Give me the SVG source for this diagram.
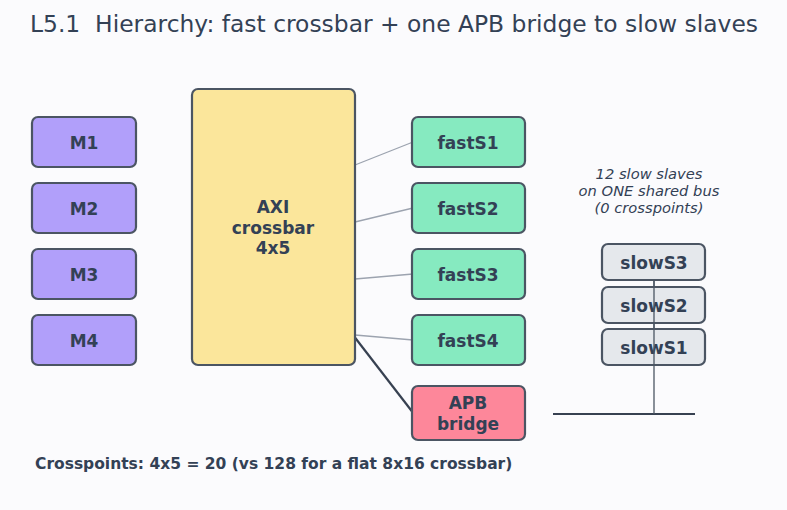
<svg xmlns="http://www.w3.org/2000/svg" width="787" height="510" viewBox="0 0 787 510">
<style>
text{font-family:"DejaVu Sans","Noto Sans",sans-serif;fill:#334155}
.n rect{stroke:#4b5563;stroke-width:2.2}
.lbl{font-weight:bold;font-size:17px;text-anchor:middle}
.m rect{fill:#b19ffa}
.f rect{fill:#86eac0}
.s rect{fill:#e5e8ec}
.thin{stroke:#9ca3af;stroke-width:1.3;fill:none}
.thick{stroke:#374151;stroke-width:2.2;fill:none}
</style>
<rect width="787" height="510" fill="#fbfbfd"/>
<text x="30" y="32" font-size="23.4" xml:space="preserve">L5.1  Hierarchy: fast crossbar + one APB bridge to slow slaves</text>
<g id="connectors">
<line class="thin" x1="355" y1="165" x2="413" y2="142"/>
<line class="thin" x1="355" y1="222" x2="413" y2="208"/>
<line class="thin" x1="355" y1="279" x2="413" y2="274"/>
<line class="thin" x1="355" y1="335" x2="413" y2="340"/>
<line class="thick" x1="353" y1="335" x2="414" y2="414"/>
<line class="thick" x1="553" y1="414" x2="695" y2="414" stroke-width="2.6"/>
<line x1="654" y1="280" x2="654" y2="414" stroke="#4b5563" stroke-width="1.3"/>
</g>
<g id="M1" class="n m"><rect x="32" y="117" width="104" height="50" rx="6"/><text class="lbl" x="84" y="148.5">M1</text></g>
<g id="M2" class="n m"><rect x="32" y="183" width="104" height="50" rx="6"/><text class="lbl" x="84" y="214.5">M2</text></g>
<g id="M3" class="n m"><rect x="32" y="249" width="104" height="50" rx="6"/><text class="lbl" x="84" y="280.5">M3</text></g>
<g id="M4" class="n m"><rect x="32" y="315" width="104" height="50" rx="6"/><text class="lbl" x="84" y="346.5">M4</text></g>
<g id="AXI" class="n"><rect x="192" y="89" width="163" height="276" rx="6" fill="#fbe69b"/>
<text class="lbl" x="273" y="212.5">AXI</text><text class="lbl" x="273" y="233.5">crossbar</text><text class="lbl" x="273" y="253.5">4x5</text></g>
<g id="fastS1" class="n f"><rect x="412" y="117" width="113" height="50" rx="6"/><text class="lbl" x="468" y="148.5">fastS1</text></g>
<g id="fastS2" class="n f"><rect x="412" y="183" width="113" height="50" rx="6"/><text class="lbl" x="468" y="214.5">fastS2</text></g>
<g id="fastS3" class="n f"><rect x="412" y="249" width="113" height="50" rx="6"/><text class="lbl" x="468" y="280.5">fastS3</text></g>
<g id="fastS4" class="n f"><rect x="412" y="315" width="113" height="50" rx="6"/><text class="lbl" x="468" y="346.5">fastS4</text></g>
<g id="APB" class="n"><rect x="412" y="386" width="113" height="54" rx="6" fill="#fd879a"/>
<text class="lbl" x="468" y="408.5">APB</text><text class="lbl" x="468" y="429.5">bridge</text></g>
<g id="slowS3" class="n s"><rect x="602" y="244" width="103" height="36" rx="6"/><text class="lbl" x="654" y="268.5">slowS3</text></g>
<g id="slowS2" class="n s"><rect x="602" y="287" width="103" height="36" rx="6"/><text class="lbl" x="654" y="311.5">slowS2</text></g>
<g id="slowS1" class="n s"><rect x="602" y="329" width="103" height="36" rx="6"/><text class="lbl" x="654" y="353.5">slowS1</text></g>
<line x1="654" y1="280" x2="654" y2="365" stroke="#4b5563" stroke-width="1.3"/>
<g font-style="italic" font-size="14.7" text-anchor="middle">
<text x="649" y="179">12 slow slaves</text>
<text x="649" y="196">on ONE shared bus</text>
<text x="649" y="213">(0 crosspoints)</text>
</g>
<text x="35" y="468.5" font-size="15.5" font-weight="bold">Crosspoints: 4x5 = 20 (vs 128 for a flat 8x16 crossbar)</text>
</svg>
